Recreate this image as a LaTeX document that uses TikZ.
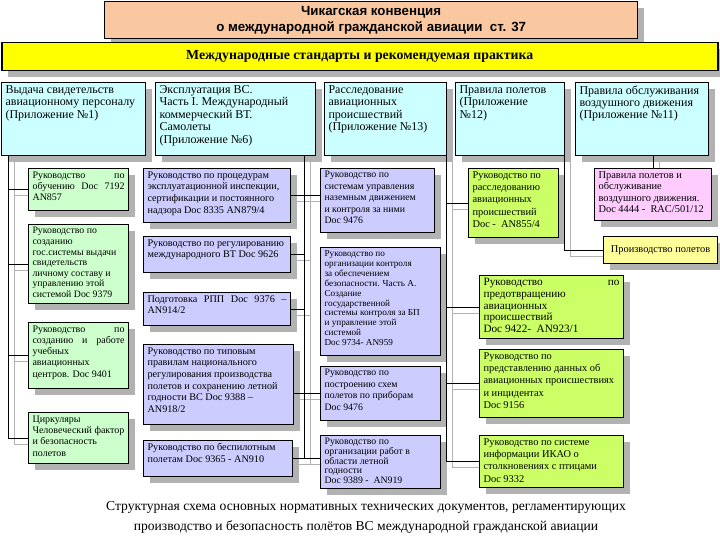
\documentclass[tikz,border=0pt]{standalone}
\usepackage{fontspec}
\setmainfont{Liberation Serif}
\newfontfamily\arialfont{Liberation Sans}
\usetikzlibrary{shadows,backgrounds}
\definecolor{peach}{RGB}{250,200,160}
\definecolor{baryellow}{RGB}{255,255,0}
\definecolor{cyanbox}{RGB}{204,255,255}
\definecolor{greenbox}{RGB}{204,255,204}
\definecolor{lavbox}{RGB}{204,204,255}
\definecolor{limebox}{RGB}{204,255,102}
\definecolor{pinkbox}{RGB}{255,204,255}
\definecolor{lyellow}{RGB}{255,255,153}
\definecolor{shd}{RGB}{178,178,178}
\tikzset{
  boxst/.style={draw=black, line width=1.1pt, anchor=north west, inner xsep=4pt, inner ysep=3pt,
    drop shadow={shadow xshift=6pt, shadow yshift=-6pt, fill=shd, opacity=1}},
  conn/.style={draw=black, line width=0.9pt},
  cshadow/.style={draw=shd, line width=0.9pt, transform canvas={xshift=6pt, yshift=-6pt}},
  fcyan/.style={font=\fontsize{12}{12.4}\selectfont},
  fg/.style={font=\fontsize{10}{11.3}\selectfont},
  fg2/.style={font=\fontsize{9.8}{10.6}\selectfont},
  fl/.style={font=\fontsize{10.2}{11.6}\selectfont},
  fc/.style={font=\fontsize{9.8}{11.4}\selectfont},
  fc2/.style={font=\fontsize{9.2}{9.9}\selectfont},
  fc4/.style={font=\fontsize{9.8}{9.6}\selectfont},
  fd/.style={font=\fontsize{10.4}{12.3}\selectfont},
  fd2/.style={font=\fontsize{11.2}{11.6}\selectfont},
  fe/.style={font=\fontsize{10.4}{11.5}\selectfont},
}
% name, x, y, w, h, fill, font style, text
\newcommand\BX[8]{\node[boxst,fill=#6,#7] (#1) at (#2,#3)
  {\parbox[c][\dimexpr#5pt-6pt\relax][t]{\dimexpr#4pt-8pt\relax}{\raggedright #8}};}
\newcommand\conns[1]{%
  \draw[#1] (v1) |- (g4.west);
  \foreach \n in {g1,g2,g3} {\draw[#1] (\n.west) -- (\n.west -| v1);}
  \draw[#1] (v2) |- (l5.east);
  \draw[#1] (l1.east) -- (l1.east -| c1.west);
  \draw[#1] (l2.east) -- (l2.east -| v2);
  \draw[#1] (l3.east) -- (l3.east -| v2);
  \draw[#1] (l4.east |- c3.west) -- (c3.west);
  \draw[#1] (l5.east) -- (l5.east -| c4.west);
  \draw[#1] (v3) |- (d4.west);
  \foreach \n in {d1,d2,d3} {\draw[#1] (\n.west) -- (\n.west -| v3);}
  \draw[#1] (v4) |- (e2.west);
  \draw[#1] (e1.north) -- (e1.north |- b5.south);
}
\begin{document}
\begin{tikzpicture}[x=1pt,y=-1pt]
\useasboundingbox (0,0) rectangle (720,540);
% title boxes
\node[draw=black, line width=1.3pt, fill=peach, anchor=north west, minimum width=533, minimum height=37,
  drop shadow={shadow xshift=6pt, shadow yshift=-6pt, fill=shd, opacity=1},
  font=\arialfont\bfseries\fontsize{13.3}{16}\selectfont, align=center] (top) at (104,1)
  {Чикагская конвенция\\о международной гражданской авиации\ \ ст. 37};
\node[draw=black, line width=1.5pt, fill=baryellow, anchor=north west, minimum width=716, minimum height=28,
  drop shadow={shadow xshift=6pt, shadow yshift=-6pt, fill=shd, opacity=1},
  font=\bfseries\fontsize{13.8}{15}\selectfont] (bar) at (1,42)
  {Международные стандарты и рекомендуемая практика};
% top row
\BX{b1}{1}{82}{144}{73}{cyanbox}{fcyan}{Выдача свидетельств\\авиационному персоналу\\(Приложение №1)}
\BX{b2}{155}{82}{160}{73}{cyanbox}{fcyan}{Эксплуатация ВС.\\Часть I. Международный\\коммерческий ВТ.\\Самолеты\\(Приложение №6)}
\BX{b3}{324}{82}{122}{73}{cyanbox}{fcyan}{Расследование\\авиационных\\происшествий\\(Приложение №13)}
\BX{b4}{455}{82}{109}{73}{cyanbox}{fcyan}{Правила полетов\\(Приложение\\№12)}
\BX{b5}{575}{82}{133}{73}{cyanbox}{fcyan}{Правила обслуживания\\воздушного движения\\(Приложение №11)}
% column 1
\BX{g1}{28}{168}{100}{42}{greenbox}{fg}{Руководство\hfill по\\обучению\hfill Doc\hfill 7192\\AN857}
\BX{g2}{28}{224}{100}{79}{greenbox}{fg2}{Руководство по\\созданию\\гос.системы выдачи\\свидетельств\\личному составу и\\управлению этой\\системой Doc 9379}
\BX{g3}{28}{322}{100}{66}{greenbox}{fg}{Руководство\hfill по\\созданию\hfill и\hfill работе\\учебных\\авиационных\\центров. Doc 9401}
\BX{g4}{28}{412}{100}{51}{greenbox}{fg}{Циркуляры\\Человеческий фактор\\и безопасность\\полетов}
% column 2
\BX{l1}{143}{168}{147}{54}{lavbox}{fl}{Руководство по процедурам\\эксплуатационной инспекции,\\сертификации и постоянного\\надзора Doc 8335 AN879/4}
\BX{l2}{143}{236}{147}{36}{lavbox}{fl}{Руководство по регулированию\\международного ВТ Doc 9626}
\BX{l3}{143}{292}{147}{33}{lavbox}{fl}{Подготовка\hfill РПП\hfill Doc\hfill 9376\hfill –\\AN914/2}
\BX{l4}{143}{344}{150}{80}{lavbox}{fl}{Руководство по типовым\\правилам национального\\регулирования производства\\полетов и сохранению летной\\годности ВС Doc 9388 –\\AN918/2}
\BX{l5}{143}{440}{149}{36}{lavbox}{fl}{Руководство по беспилотным\\полетам Doc 9365 - AN910}
% column 3
\BX{c1}{320}{168}{114}{64}{lavbox}{fc}{Руководство по\\системам управления\\наземным движением\\и контроля за ними\\Doc 9476}
\BX{c2}{320}{247}{120}{108}{lavbox}{fc2}{Руководство по\\организации контроля\\за обеспечением\\безопасности. Часть А.\\Создание\\государственной\\системы контроля за БП\\и управление этой\\системой\\Doc 9734- AN959}
\BX{c3}{320}{366}{120}{54}{lavbox}{fc}{Руководство по\\построению схем\\полетов по приборам\\Doc 9476}
\BX{c4}{320}{435}{120}{53}{lavbox}{fc4}{Руководство по\\организации работ в\\области летной\\годности\\Doc 9389 -\ \ AN919}
% column 4
\BX{d1}{468}{168}{90}{69}{limebox}{fd}{Руководство по\\расследованию\\авиационных\\происшествий\\Doc -\ \ AN855/4}
\BX{d2}{479}{275}{144}{63}{limebox}{fd2}{Руководство\hfill по\\предотвращению\\авиационных\\происшествий\\Doc 9422-\ \ AN923/1}
\BX{d3}{479}{349}{144}{68}{limebox}{fd}{Руководство по\\представлению данных об\\авиационных происшествиях\\и инцидентах\\Doc 9156}
\BX{d4}{479}{435}{144}{52}{limebox}{fd}{Руководство по системе\\информации ИКАО о\\столкновениях с птицами\\Doc 9332}
% column 5
\BX{e1}{594}{168}{117}{52}{pinkbox}{fe}{Правила полетов и\\обслуживание\\воздушного движения.\\Doc 4444 -\ \ RAC/501/12}
\node[boxst, fill=lyellow, minimum width=114, minimum height=27, inner sep=0pt,
  font=\fontsize{10.4}{12}\selectfont] (e2) at (603,236) {Производство полетов};
% connector anchors
\coordinate (v1) at ([xshift=7pt]b1.south west);
\coordinate (v2) at ([xshift=-12pt]b2.south east);
\coordinate (v3) at ([xshift=-1pt]b3.south east);
\coordinate (v4) at ([xshift=-1pt]b4.south east);
\begin{pgfonlayer}{background}
\conns{cshadow}
\end{pgfonlayer}
\conns{conn}
% caption
\node[font=\fontsize{13.6}{20}\selectfont, align=center] (cap) at (366,517)
  {Структурная схема основных нормативных технических документов, регламентирующих\\
   производство и безопасность полётов ВС международной гражданской авиации};
\end{tikzpicture}
\end{document}
